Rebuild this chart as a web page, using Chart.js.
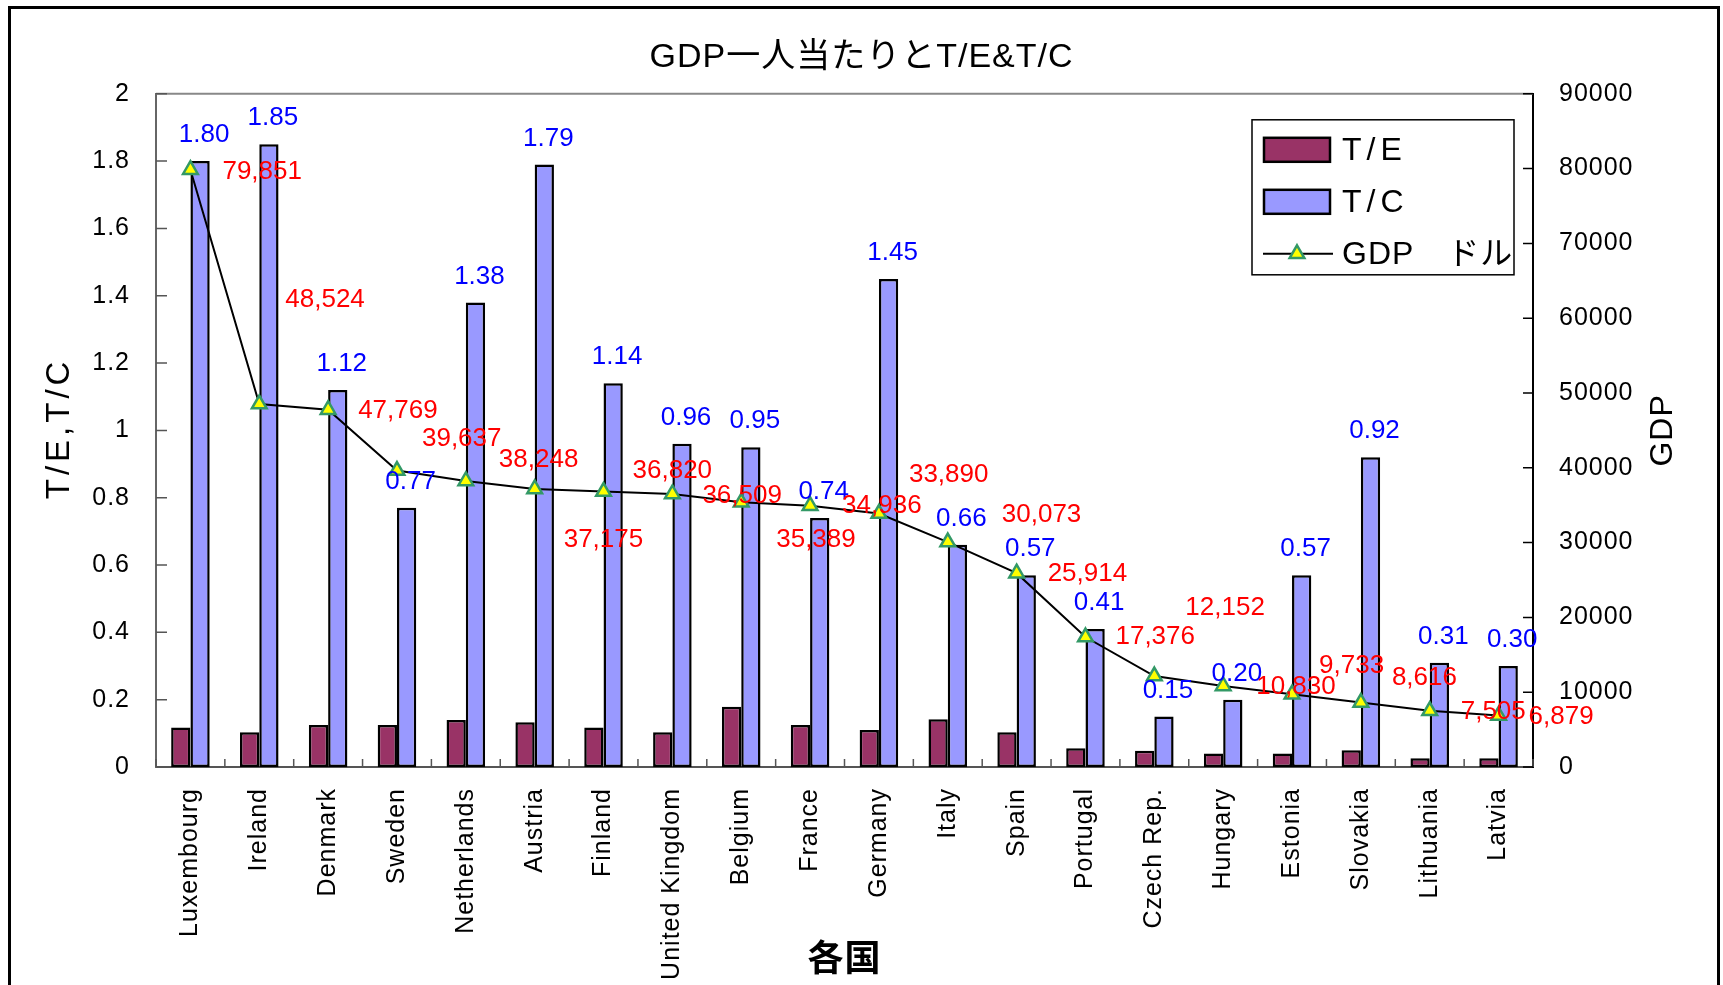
<!DOCTYPE html>
<html>
<head>
<meta charset="utf-8">
<script src="https://cdn.jsdelivr.net/npm/chart.js@4.4.0/dist/chart.umd.min.js"></script>
<style>
html, body { margin: 0; padding: 0; background: #fff; }
</style>
</head>
<body>
<canvas id="myChart" width="1723" height="985"></canvas>
<script>
// data
const countries = ['Luxembourg', 'Ireland', 'Denmark', 'Sweden', 'Netherlands', 'Austria', 'Finland',
  'United Kingdom', 'Belgium', 'France', 'Germany', 'Italy', 'Spain', 'Portugal', 'Czech Rep.',
  'Hungary', 'Estonia', 'Slovakia', 'Lithuania', 'Latvia'];
const teValues = [0.117, 0.103, 0.125, 0.125, 0.14, 0.133, 0.117, 0.103, 0.179, 0.125,
  0.11, 0.142, 0.103, 0.056, 0.048, 0.04, 0.04, 0.05, 0.026, 0.026];
const tcValues = [1.80, 1.85, 1.12, 0.77, 1.38, 1.79, 1.14, 0.96, 0.95, 0.74,
  1.45, 0.66, 0.57, 0.41, 0.15, 0.20, 0.57, 0.92, 0.31, 0.30];
const gdpValues = [79851, 48524, 47769, 39637, 38248, 37175, 36820, 36509, 35389, 34936,
  33890, 30073, 25914, 17376, 12152, 10830, 9733, 8616, 7505, 6879];
const leftTicks = { min: 0, max: 2, step: 0.2 };
const rightTicks = { min: 0, max: 90000, step: 10000 };

// where the red GDP labels were dragged to (dx, dy from the point)
const gdpLabelOffset = [[32, 2], [26, -104], [30, 1], [25, -32], [33, -21], [29, 51], [29, -21],
  [30, 2], [35, 38], [32, 0], [30, -39], [54, -27], [31, 1], [30, 0], [31, -68],
  [33, 1], [27, -28], [31, -25], [31, 1], [30, 1]];

const FONT = '"Liberation Sans", Arial, "Noto Sans CJK JP", sans-serif';
Chart.defaults.font.family = FONT;
Chart.defaults.color = '#000';

const frame = {
  id: 'frame',
  beforeDraw(chart) {
    chart.ctx.letterSpacing = '1px';
  },
  beforeDatasetsDraw(chart) {
    const { ctx, chartArea: a, scales } = chart;
    ctx.save();
    // top edge of plot area
    ctx.strokeStyle = '#888';
    ctx.lineWidth = 2;
    ctx.beginPath();
    ctx.moveTo(a.left, a.top);
    ctx.lineTo(a.right, a.top);
    ctx.stroke();
    // inward tick marks
    ctx.strokeStyle = '#555';
    ctx.lineWidth = 1.5;
    ctx.beginPath();
    scales.y.ticks.forEach(t => {
      const py = scales.y.getPixelForValue(t.value);
      ctx.moveTo(a.left, py); ctx.lineTo(a.left + 11, py);
    });
    const n = countries.length;
    for (let i = 0; i <= n; i++) {
      let px;
      if (i == 0) px = a.left;
      else if (i == n) px = a.right;
      else px = (scales.x.getPixelForTick(i - 1) + scales.x.getPixelForTick(i)) / 2;
      ctx.moveTo(px, a.bottom); ctx.lineTo(px, a.bottom - 8);
    }
    ctx.stroke();
    ctx.strokeStyle = '#000';
    ctx.beginPath();
    scales.y1.ticks.forEach(t => {
      const py = scales.y1.getPixelForValue(t.value);
      ctx.moveTo(a.right - 10, py); ctx.lineTo(a.right, py);
    });
    ctx.stroke();

    // axis titles, both read bottom to top
    const cy = (a.top + a.bottom) / 2;
    ctx.fillStyle = '#000';
    ctx.textAlign = 'center';
    ctx.textBaseline = 'middle';
    ctx.font = '33px ' + FONT;
    ctx.letterSpacing = '4px';
    ctx.save();
    ctx.translate(60, cy);
    ctx.rotate(-Math.PI / 2);
    ctx.fillText('T/E,T/C', 2, 0);
    ctx.restore();
    ctx.letterSpacing = '1px';
    ctx.font = '32px ' + FONT;
    ctx.save();
    ctx.translate(a.right + 130, cy);
    ctx.rotate(-Math.PI / 2);
    ctx.fillText('GDP', 0, 0);
    ctx.restore();
    ctx.restore();
  },
  afterDraw(chart) {
    const ctx = chart.ctx;
    ctx.save();
    ctx.strokeStyle = '#000';
    ctx.lineWidth = 3;
    ctx.strokeRect(9.5, 7.5, 1709, 1010);
    ctx.restore();
    ctx.letterSpacing = '0px';
  }
};

const valueLabels = {
  id: 'valueLabels',
  afterDatasetsDraw(chart) {
    const ctx = chart.ctx;
    ctx.save();
    ctx.letterSpacing = '0px';
    ctx.font = '26px ' + FONT;
    ctx.textBaseline = 'middle';
    ctx.fillStyle = '#0000FF';
    ctx.textAlign = 'center';
    chart.getDatasetMeta(1).data.forEach((bar, i) => {
      ctx.fillText(tcValues[i].toFixed(2), bar.x + 4, bar.y - 26);
    });
    ctx.fillStyle = '#FF0000';
    ctx.textAlign = 'left';
    chart.getDatasetMeta(2).data.forEach((pt, i) => {
      const o = gdpLabelOffset[i];
      ctx.fillText(gdpValues[i].toLocaleString('en-US'), pt.x + o[0], pt.y + o[1]);
    });
    ctx.restore();
  }
};

const boxLegend = {
  id: 'boxLegend',
  afterDraw(chart) {
    const { ctx, chartArea: a } = chart;
    const ds = chart.data.datasets;
    const left = a.right - 281, top = a.top + 26;
    ctx.save();
    ctx.fillStyle = '#fff';
    ctx.fillRect(left, top, 262, 155);
    ctx.strokeStyle = '#000';
    ctx.lineWidth = 1.5;
    ctx.strokeRect(left, top, 262, 155);
    ctx.font = '32px ' + FONT;
    ctx.textBaseline = 'middle';
    ctx.textAlign = 'left';
    ds.forEach((d, i) => {
      const cy = top + 30 + i * 52;
      if (d.type == 'line') {
        ctx.strokeStyle = d.borderColor;
        ctx.lineWidth = 2;
        ctx.beginPath();
        ctx.moveTo(left + 11, cy); ctx.lineTo(left + 81, cy);
        ctx.stroke();
        ctx.fillStyle = d.pointBackgroundColor;
        ctx.strokeStyle = d.pointBorderColor;
        ctx.lineWidth = d.pointBorderWidth;
        Chart.helpers.drawPoint(ctx, { pointStyle: 'triangle', radius: d.pointRadius, rotation: 0, borderWidth: d.pointBorderWidth }, left + 45, cy);
        ctx.letterSpacing = '1px';
      } else {
        ctx.fillStyle = d.backgroundColor;
        ctx.fillRect(left + 12, cy - 12, 66, 24);
        ctx.strokeStyle = '#000';
        ctx.lineWidth = 2.5;
        ctx.strokeRect(left + 12, cy - 12, 66, 24);
        ctx.letterSpacing = '5px';
      }
      ctx.fillStyle = '#000';
      ctx.fillText(d.label, left + 90, cy + 1);
    });
    ctx.restore();
  }
};

const ctx = document.getElementById('myChart');
const myChart = new Chart(ctx, {
  type: 'bar',
  data: {
    labels: countries,
    datasets: [{
      label: 'T/E',
      data: teValues,
      backgroundColor: '#993366',
      borderColor: '#000',
      borderWidth: 2.5,
      borderSkipped: false,
      yAxisID: 'y',
      order: 1
    }, {
      label: 'T/C',
      data: tcValues,
      backgroundColor: '#9999FF',
      borderColor: '#000',
      borderWidth: 2.5,
      borderSkipped: false,
      yAxisID: 'y',
      order: 1
    }, {
      type: 'line',
      label: 'GDP\u3000ドル',
      data: gdpValues,
      yAxisID: 'y1',
      borderColor: '#000',
      borderWidth: 2,
      tension: 0,
      pointStyle: 'triangle',
      pointRadius: 8.5,
      pointBackgroundColor: '#FFFF00',
      pointBorderColor: '#339966',
      pointBorderWidth: 2.5,
      order: 0
    }]
  },
  options: {
    responsive: false,
    animation: false,
    layout: { padding: 0 },
    datasets: { bar: { categoryPercentage: 0.56, barPercentage: 1 } },
    plugins: {
      legend: { display: false },
      tooltip: { enabled: false },
      title: {
        display: true,
        text: 'GDP一人当たりとT/E&T/C',
        color: '#000',
        font: { size: 34, weight: 'normal' },
        padding: { top: 37, bottom: 16 }
      }
    },
    scales: {
      x: {
        grid: { display: false, drawTicks: false },
        border: { color: '#555', width: 2 },
        ticks: { autoSkip: false, maxRotation: 90, minRotation: 90, padding: 21, color: '#000', font: { size: 25 } },
        title: { display: true, text: '各国', color: '#000', font: { size: 36, weight: 'bold' }, padding: { top: 0, bottom: 2 } },
        afterFit(s) { s.height = 218; }
      },
      y: {
        position: 'left',
        min: leftTicks.min,
        max: leftTicks.max,
        grid: { display: false, drawTicks: false },
        border: { color: '#666', width: 2 },
        ticks: { stepSize: leftTicks.step, padding: 26, color: '#000', font: { size: 25 },
          callback: v => String(Math.round(v * 10) / 10) },
        afterFit(s) { s.width = 156; }
      },
      y1: {
        position: 'right',
        min: rightTicks.min,
        max: rightTicks.max,
        grid: { display: false, drawTicks: false },
        border: { color: '#000', width: 2 },
        ticks: { stepSize: rightTicks.step, padding: 26, color: '#000', font: { size: 25 },
          callback: v => String(v) },
        afterFit(s) { s.width = 190; }
      }
    }
  },
  plugins: [frame, valueLabels, boxLegend]
});
</script>
</body>
</html>
